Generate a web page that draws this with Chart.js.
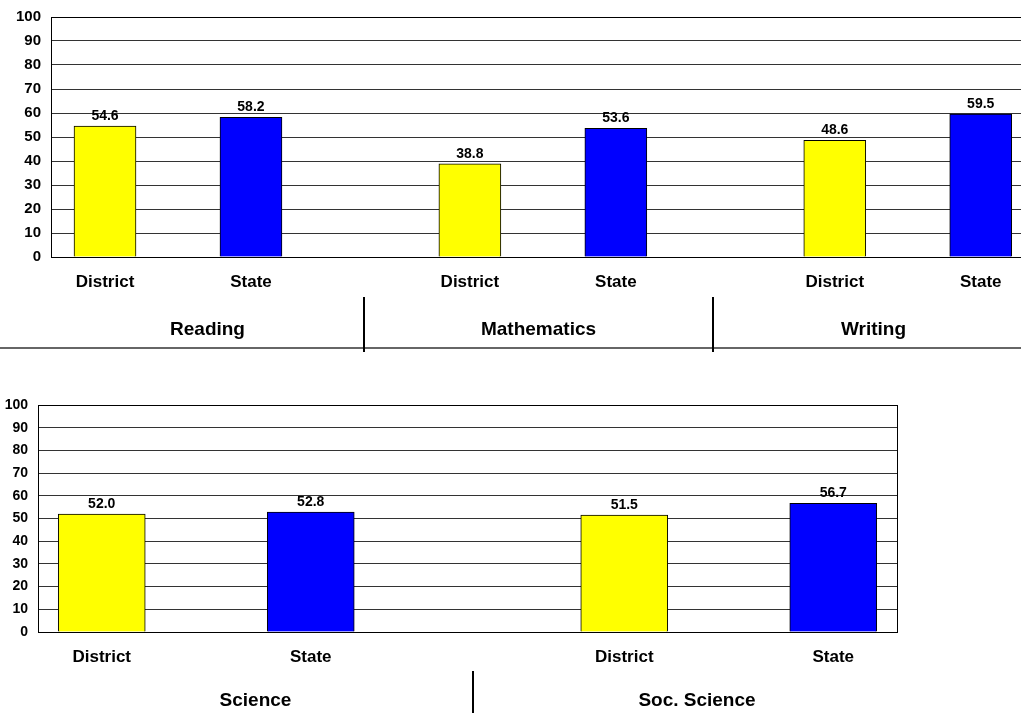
<!DOCTYPE html>
<html>
<head>
<meta charset="utf-8">
<script src="https://cdn.jsdelivr.net/npm/chart.js@4.4.0/dist/chart.umd.min.js"></script>
<style>
    html, body { margin: 0; padding: 0; background: #fff; overflow: hidden; width: 1021px; height: 713px; }
    #topChart { position: absolute; left: 0; top: 0; }
    #bottomChart { position: absolute; left: 0; top: 390px; }
</style>
</head>
<body>
<canvas id="topChart" width="1040" height="360" style="width:1040px;height:360px"></canvas>
<canvas id="bottomChart" width="1021" height="323" style="width:1021px;height:323px"></canvas>
<script>
// --- data ---
const topCategories = ['District', 'State', 'District', 'State', 'District', 'State'];
const topValues = [54.6, 58.2, 38.8, 53.6, 48.6, 59.5];
const topGroups = ['Reading', 'Mathematics', 'Writing'];

const bottomCategories = ['District', 'State', 'District', 'State'];
const bottomValues = [52.0, 52.8, 51.5, 56.7];
const bottomGroups = ['Science', 'Soc. Science'];

const yTicks = [0, 10, 20, 30, 40, 50, 60, 70, 80, 90, 100];

const FONT = "'Liberation Sans', Arial, sans-serif";
const districtColor = '#FFFF00';
const stateColor = '#0000FF';

// District/State sit 2 slots apart, groups 5 slots apart
const slotOf = i => Math.floor(i / 2) * 5 + (i % 2) * 2;

const valueLabels = {
    id: 'valueLabels',
    afterDatasetsDraw(chart) {
        const ctx = chart.ctx;
        const vals = chart.data.datasets[0].data;
        ctx.save();
        ctx.font = 'bold 14px ' + FONT;
        ctx.fillStyle = '#000';
        ctx.textAlign = 'center';
        ctx.textBaseline = 'alphabetic';
        chart.getDatasetMeta(0).data.forEach((bar, i) => {
            ctx.fillText(vals[i].y.toFixed(1), bar.x, bar.y - 6);
        });
        ctx.restore();
    }
};

const groupLabels = {
    id: 'groupLabels',
    afterDraw(chart, args, opts) {
        const { ctx, chartArea } = chart;
        const xs = chart.scales.x;
        ctx.save();
        if (opts.rightBorder) {
            ctx.strokeStyle = '#000';
            ctx.lineWidth = 1;
            ctx.beginPath();
            ctx.moveTo(Math.round(chartArea.right) + 0.5, chartArea.top);
            ctx.lineTo(Math.round(chartArea.right) + 0.5, chartArea.bottom);
            ctx.stroke();
        }
        if (opts.baseLine !== null) {
            ctx.strokeStyle = '#333';
            ctx.lineWidth = 1.5;
            ctx.beginPath();
            ctx.moveTo(0, chartArea.bottom + opts.baseLine);
            ctx.lineTo(chart.width, chartArea.bottom + opts.baseLine);
            ctx.stroke();
        }
        const seps = opts.separators.map(s => Math.round(xs.getPixelForValue(s)));
        ctx.strokeStyle = '#000';
        ctx.lineWidth = 2;
        seps.forEach(px => {
            ctx.beginPath();
            ctx.moveTo(px, chartArea.bottom + opts.sepTop);
            ctx.lineTo(px, chartArea.bottom + opts.sepBottom);
            ctx.stroke();
        });
        const bounds = [chartArea.left, ...seps, chartArea.right];
        ctx.font = 'bold 19px ' + FONT;
        ctx.fillStyle = '#000';
        ctx.textAlign = 'center';
        ctx.textBaseline = 'middle';
        opts.groups.forEach((g, i) => {
            ctx.fillText(g, (bounds[i] + bounds[i + 1]) / 2 + (opts.shift[i] || 0), chartArea.bottom + opts.groupY);
        });
        ctx.restore();
    }
};

function makeChart(id, categories, values, groups, cfg) {
    const slots = values.map((v, i) => slotOf(i));
    return new Chart(document.getElementById(id), {
        type: 'bar',
        data: {
            datasets: [{
                data: values.map((v, i) => ({ x: slots[i], y: v })),
                backgroundColor: values.map((v, i) => i % 2 === 0 ? districtColor : stateColor),
                borderColor: '#000',
                borderWidth: 1,
                barThickness: cfg.barWidth
            }]
        },
        options: {
            responsive: false,
            animation: false,
            layout: { padding: { top: cfg.top, right: cfg.right, left: 0, bottom: 0 } },
            plugins: {
                legend: { display: false },
                tooltip: { enabled: false },
                groupLabels: {
                    groups: groups,
                    separators: cfg.separators,
                    sepTop: cfg.sepTop,
                    sepBottom: cfg.sepBottom,
                    groupY: cfg.groupY,
                    baseLine: cfg.baseLine,
                    rightBorder: cfg.rightBorder,
                    shift: cfg.shift
                }
            },
            scales: {
                x: {
                    type: 'linear',
                    offset: false,
                    min: cfg.xMin,
                    max: cfg.xMax,
                    afterBuildTicks: scale => { scale.ticks = slots.map(v => ({ value: v })); },
                    afterFit: scale => {
                        scale.height = cfg.xHeight;
                        scale.paddingLeft = 0;
                        scale.paddingRight = 0;
                    },
                    grid: { display: false, drawTicks: false, offset: false },
                    border: { display: true, color: '#000', width: 1 },
                    ticks: {
                        autoSkip: false,
                        maxRotation: 0,
                        padding: cfg.tickPad,
                        color: '#000',
                        font: { family: FONT, size: 17, weight: 'bold' },
                        callback: (v, i) => categories[i]
                    }
                },
                y: {
                    min: 0,
                    max: 100,
                    afterBuildTicks: scale => { scale.ticks = yTicks.map(v => ({ value: v })); },
                    afterFit: scale => {
                        scale.width = cfg.yWidth;
                        scale.paddingTop = 0;
                        scale.paddingBottom = 0;
                    },
                    grid: {
                        drawTicks: false,
                        color: ctx => ctx.tick.value === 100 ? '#000' : '#333',
                        lineWidth: 1
                    },
                    border: { display: true, color: '#000', width: 1 },
                    ticks: {
                        padding: 10,
                        color: '#000',
                        font: { family: FONT, size: cfg.yFont, weight: 'bold' }
                    }
                }
            }
        },
        plugins: [valueLabels, groupLabels]
    });
}

makeChart('topChart', topCategories, topValues, topGroups, {
    barWidth: 62, top: 17, right: 6, xMin: -0.74, xMax: 12.73,
    xHeight: 103, yWidth: 51, yFont: 15, tickPad: 15,
    separators: [3.55, 8.33], sepTop: 40, sepBottom: 95, groupY: 73,
    baseLine: 91, rightBorder: false, shift: []
});

makeChart('bottomChart', bottomCategories, bottomValues, bottomGroups, {
    barWidth: 87, top: 15, right: 124, xMin: -0.61, xMax: 7.61,
    xHeight: 81, yWidth: 38, yFont: 14, tickPad: 15,
    separators: [3.55], sepTop: 39, sepBottom: 120, groupY: 69,
    baseLine: null, rightBorder: true, shift: [0, 12]
});
</script>
</body>
</html>
